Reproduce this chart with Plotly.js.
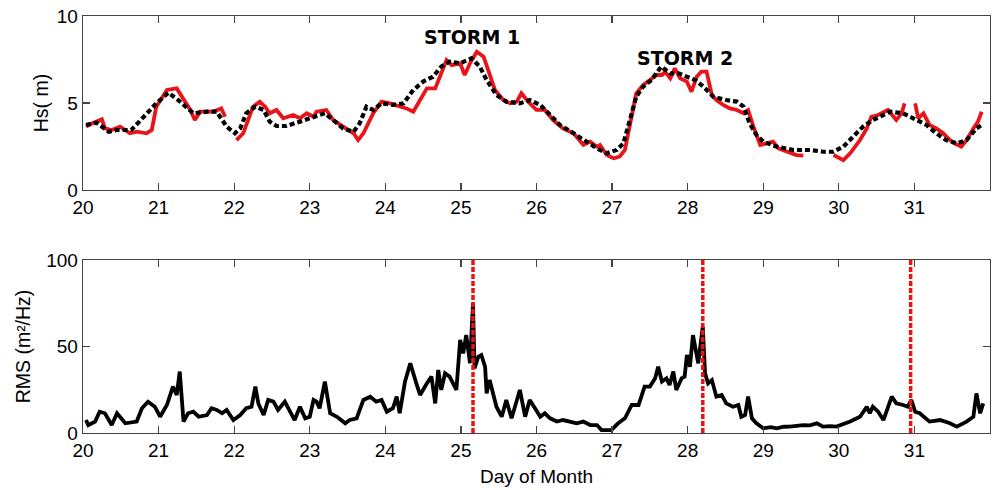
<!DOCTYPE html>
<html>
<head>
<meta charset="utf-8">
<script src="https://cdn.plot.ly/plotly-3.0.1.min.js"></script>
<style>
  html, body { margin: 0; padding: 0; background: #ffffff; }
  #chart { width: 993px; height: 490px; }
</style>
</head>
<body>
<div id="chart"></div>
<script>
// Significant wave height, measured (red, gaps as null)
const hsObsDay = [20.04,20.14,20.25,20.29,20.38,20.49,20.62,20.71,20.84,20.91,20.97,21.11,21.24,21.33,21.42,21.48,21.55,21.72,21.83,21.88,21.95,
  22.03,22.12,22.25,22.34,22.41,22.47,22.56,22.65,22.78,22.87,22.96,23.05,23.09,23.22,23.31,23.44,23.58,23.64,23.71,23.84,23.95,
  24.06,24.19,24.28,24.37,24.46,24.55,24.66,24.72,24.81,24.88,24.99,25.05,25.12,25.21,25.30,25.36,25.45,25.56,25.65,25.74,25.80,25.89,
  26.00,26.11,26.22,26.35,26.49,26.62,26.71,26.80,26.84,26.93,27.02,27.10,27.17,27.24,27.32,27.41,27.50,27.59,27.66,27.70,27.77,27.83,
  27.90,27.99,28.05,28.12,28.18,28.25,28.32,28.38,28.47,28.56,28.65,28.74,28.80,28.87,28.96,29.04,29.13,29.20,29.31,29.44,29.53,29.70,
  29.93,30.06,30.15,30.28,30.37,30.43,30.52,30.65,30.76,30.83,30.87,30.94,
  31.01,31.05,31.12,31.20,31.29,31.38,31.47,31.53,31.62,31.69,31.78,31.84,31.89];
const hsObs = [3.64,3.87,4.06,3.54,3.45,3.64,3.26,3.35,3.26,3.45,4.79,5.75,5.84,5.17,4.60,4.02,4.50,4.50,4.69,4.21,null,
  2.87,3.26,4.79,5.08,4.79,4.41,4.60,4.12,4.31,4.12,4.41,4.21,4.50,4.60,4.02,3.64,3.26,2.87,3.26,4.41,5.08,
  4.98,4.79,4.69,4.50,5.17,5.84,5.84,6.51,7.47,7.18,7.28,6.61,7.28,7.95,7.66,6.90,5.75,5.17,4.98,5.08,5.56,5.08,
  4.60,4.60,4.02,3.54,3.26,2.59,2.78,2.49,2.59,2.01,1.82,1.92,2.30,3.83,5.56,6.03,6.32,6.61,6.61,6.80,6.42,6.99,
  6.42,6.23,5.65,6.51,6.80,6.80,5.46,5.17,4.89,4.69,4.60,4.41,4.60,3.64,2.59,2.68,2.78,2.39,2.20,2.01,1.97,null,
  2.01,1.72,2.11,2.87,3.54,4.21,4.31,4.60,4.02,4.41,4.98,null,
  4.98,4.12,4.41,3.74,3.54,3.26,2.87,2.68,2.49,2.87,3.54,3.93,4.50];

// Significant wave height, model (black dashed)
const hsModDay = [20.04,20.18,20.34,20.45,20.64,20.80,20.97,21.13,21.26,21.46,21.64,21.77,21.90,22.01,22.08,22.16,22.28,22.39,22.47,
  22.56,22.69,22.87,23.05,23.20,23.31,23.44,23.58,23.66,23.75,23.84,23.95,24.10,24.24,24.37,24.50,24.63,24.74,24.85,24.99,25.14,
  25.25,25.34,25.47,25.60,25.78,25.91,26.05,26.18,26.31,26.49,26.66,26.80,26.93,27.06,27.15,27.24,27.32,27.41,27.52,27.65,27.77,
  27.88,27.99,28.10,28.21,28.34,28.51,28.65,28.74,28.82,28.91,29.00,29.18,29.40,29.62,29.79,29.93,30.06,30.19,30.32,30.45,30.68,
  30.85,31.03,31.16,31.29,31.42,31.56,31.69,31.82,31.89];
const hsMod = [3.74,3.87,3.35,3.45,3.45,4.21,4.98,5.59,5.17,4.41,4.50,4.50,3.64,3.26,3.54,4.41,4.79,4.60,3.93,
  3.68,3.68,3.93,4.21,4.41,4.02,3.54,3.35,3.83,4.79,4.60,4.98,4.89,4.98,5.75,6.23,6.51,7.09,7.38,7.28,7.57,
  7.09,6.32,5.46,5.08,4.98,5.17,4.89,4.31,3.74,3.26,2.78,2.39,2.11,2.30,2.68,4.02,5.36,5.94,6.32,7.09,6.70,
  6.70,6.51,6.32,5.94,5.36,5.17,5.08,4.79,3.83,3.16,2.78,2.49,2.30,2.30,2.20,2.20,2.49,3.07,3.64,4.02,4.50,
  4.41,4.02,3.74,3.26,2.87,2.68,2.87,3.54,3.74];

// RMS spectral level
const rmsDay = [20.04,20.07,20.16,20.22,20.29,20.38,20.45,20.56,20.71,20.78,20.86,20.95,21.02,21.11,21.19,21.24,21.28,21.33,21.39,21.46,
  21.53,21.64,21.70,21.77,21.84,21.90,21.99,22.08,22.16,22.23,22.28,22.32,22.39,22.45,22.52,22.58,22.67,22.73,22.80,22.87,22.94,
  23.00,23.05,23.09,23.13,23.20,23.27,23.36,23.42,23.47,23.53,23.62,23.71,23.80,23.88,23.95,24.02,24.10,24.15,24.19,24.26,24.33,
  24.41,24.46,24.55,24.61,24.66,24.70,24.74,24.79,24.85,24.94,24.99,25.03,25.07,25.12,25.16,25.18,25.23,25.27,25.32,25.34,25.38,
  25.43,25.47,25.54,25.60,25.67,25.78,25.85,25.91,25.98,26.05,26.11,26.18,26.27,26.35,26.44,26.53,26.62,26.71,26.80,26.86,26.99,
  27.08,27.17,27.26,27.35,27.43,27.50,27.57,27.61,27.66,27.72,27.76,27.81,27.85,27.92,27.96,27.99,28.03,28.07,28.14,28.20,28.23,
  28.27,28.32,28.38,28.45,28.51,28.60,28.67,28.71,28.76,28.80,28.85,28.91,29.00,29.10,29.18,29.27,29.35,29.44,29.53,29.62,29.71,29.79,29.88,29.97,30.06,30.15,30.28,
  30.37,30.41,30.45,30.52,30.59,30.70,30.76,30.85,30.91,30.96,31.01,31.07,31.20,31.34,31.47,31.56,31.69,31.78,31.82,31.87,31.91];
const rms = [7.5,4.6,6.6,12.3,11.4,4.6,11.4,5.6,6.6,14.3,18.1,15.2,9.4,16.2,26.8,22.0,35.5,6.6,11.4,12.3,
  9.4,10.4,14.3,13.3,11.4,13.3,7.5,10.4,14.3,15.2,26.8,17.1,10.4,19.1,18.1,13.3,18.1,13.3,7.5,15.2,8.5,
  9.4,19.1,18.1,14.3,29.7,11.4,9.4,7.5,5.6,7.5,8.5,19.1,21.0,18.1,19.1,12.3,14.3,21.0,11.4,29.7,40.3,
  28.7,22.0,28.7,32.6,17.1,36.4,24.9,34.5,32.6,24.9,53.8,46.0,56.6,40.3,75.0,37.4,44.1,45.1,38.3,22.9,30.6,
  21.0,15.2,9.4,19.1,8.5,24.9,9.4,19.1,14.3,9.4,11.4,8.5,6.6,7.5,6.6,5.6,6.6,4.6,4.6,1.7,1.7,
  5.6,8.5,16.2,16.2,26.8,26.8,31.6,38.3,29.7,31.6,27.7,35.5,24.9,31.6,32.6,45.1,38.3,56.6,40.3,61.5,34.5,
  28.7,30.6,21.0,22.0,17.1,15.2,16.2,9.4,10.4,21.0,8.5,5.6,2.7,3.4,2.7,3.6,3.7,4.2,4.6,4.4,5.6,3.7,4.0,3.7,5.2,6.6,9.4,
  15.2,11.4,15.2,12.3,7.5,21.0,17.1,16.2,15.2,19.1,12.3,11.4,6.6,7.5,5.6,3.7,6.6,9.4,22.9,11.4,17.1];

// Storm peak times marked on the RMS panel
const stormDays = [25.16, 28.2, 30.95];
const rmsMarkTop = 100;

// Storm labels
const stormLabels = ['STORM 1', 'STORM 2'];
const stormLabelDay = [25.15, 27.96];
const stormLabelHs = [8.8, 7.6];

const xTicks = [20,21,22,23,24,25,26,27,28,29,30,31];

const traces = [
  { x: hsObsDay, y: hsObs, xaxis: 'x', yaxis: 'y', mode: 'lines', connectgaps: false,
    line: { color: '#e8141a', width: 3.8 }, hoverinfo: 'x+y' },
  { x: hsModDay, y: hsMod, xaxis: 'x', yaxis: 'y', mode: 'lines',
    line: { color: '#000000', width: 4.2, dash: '5px,3px' }, hoverinfo: 'x+y' },
  { x: rmsDay, y: rms, xaxis: 'x2', yaxis: 'y2', mode: 'lines',
    line: { color: '#000000', width: 3.8 }, hoverinfo: 'x+y' }
];
stormDays.forEach(d => {
  traces.push({ x: [d, d], y: [0, rmsMarkTop], xaxis: 'x2', yaxis: 'y2', mode: 'lines',
    line: { color: '#ee1111', width: 3.5, dash: '5px,2px' }, hoverinfo: 'x' });
});

const tickFont = { family: 'Liberation Sans, Arial, sans-serif', size: 19, color: '#000' };
const titleFont = { family: 'Liberation Sans, Arial, sans-serif', size: 19.5, color: '#000' };

const xBase = {
  range: [20, 32], tickmode: 'array', tickvals: xTicks, ticktext: xTicks.map(String),
  ticks: 'inside', ticklen: 7, tickwidth: 1.3, tickcolor: '#444',
  showline: true, linecolor: '#444', linewidth: 1.3, mirror: 'ticks',
  showgrid: false, zeroline: false, tickfont: tickFont
};

const layout = {
  width: 993, height: 490,
  margin: { l: 83, r: 3, t: 16, b: 57 },
  paper_bgcolor: '#ffffff', plot_bgcolor: '#ffffff',
  showlegend: false,
  xaxis: Object.assign({}, xBase, { domain: [0, 1], anchor: 'y' }),
  yaxis: {
    domain: [0.5827, 1], anchor: 'x', range: [0, 10], tickvals: [0, 5, 10],
    ticks: 'inside', ticklen: 7, tickwidth: 1.3, tickcolor: '#444',
    showline: true, linecolor: '#444', linewidth: 1.3, mirror: 'ticks',
    showgrid: false, zeroline: false, tickfont: tickFont,
    title: { text: 'Hs( m)', font: titleFont, standoff: 3 }
  },
  xaxis2: Object.assign({}, xBase, { domain: [0, 1], anchor: 'y2',
    title: { text: 'Day of Month', font: { family: 'Liberation Sans, Arial, sans-serif', size: 19, color: '#000' }, standoff: 9 } }),
  yaxis2: {
    domain: [0, 0.4149], anchor: 'x2', range: [0, 100], tickvals: [0, 50, 100],
    ticks: 'inside', ticklen: 7, tickwidth: 1.3, tickcolor: '#444',
    showline: true, linecolor: '#444', linewidth: 1.3, mirror: 'ticks',
    showgrid: false, zeroline: false, tickfont: tickFont,
    title: { text: 'RMS (m²/Hz)', font: titleFont, standoff: 10 }
  },
  annotations: stormLabels.map((t, i) => ({
    x: stormLabelDay[i], y: stormLabelHs[i], xref: 'x', yref: 'y', text: '<b>' + t + '</b>',
    showarrow: false, font: { family: 'DejaVu Sans, sans-serif', size: 19, color: '#000' }
  }))
};

Plotly.newPlot('chart', traces, layout, { displayModeBar: false, staticPlot: true });
</script>
</body>
</html>
